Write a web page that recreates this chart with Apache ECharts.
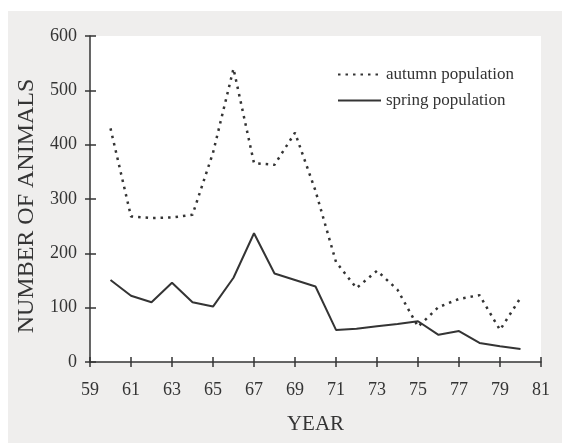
<!DOCTYPE html>
<html><head><meta charset="utf-8">
<script src="https://cdn.jsdelivr.net/npm/echarts@6/dist/echarts.min.js"></script>
<style>html,body{margin:0;padding:0;background:#fff}#c{width:562px;height:443px}</style>
</head><body><div id="c"></div>
<script>
const years = [60,61,62,63,64,65,66,67,68,69,70,71,72,73,74,75,76,77,78,79,80];
const autumn = [430,268,265,266,271,385,540,366,363,422,315,184,136,168,133,65,101,116,123,59,118];
const spring = [151,122,110,146,110,102,155,237,163,151,139,59,61,66,70,75,50,57,35,29,24];
const seriesNames = ['autumn population','spring population'];
const xName = 'YEAR';
const yName = 'NUMBER OF ANIMALS';

const ink = '#343434';
const font = '"Liberation Serif","DejaVu Serif",serif';
const chart = echarts.init(document.getElementById('c'));
const xBase = {type:'value', min:59, max:81, interval:2, position:'bottom'};
const yBase = {type:'value', min:0, max:600, interval:100, position:'left'};
chart.setOption({
  backgroundColor:'transparent',
  animation:false,
  graphic:[{type:'rect', left:8, top:11, z:-10, shape:{width:554, height:432}, style:{fill:'#efeeed'}}],
  grid:{left:90, right:21, top:36, bottom:81, show:true, backgroundColor:'#ffffff', borderWidth:0},
  legend:{orient:'vertical', left:337, top:66, padding:0, itemWidth:43, itemHeight:14, itemGap:9,
    itemStyle:{opacity:0},
    textStyle:{fontFamily:font, fontSize:17, color:ink}, data:seriesNames},
  xAxis:[
    Object.assign({}, xBase, {
      name:xName, nameLocation:'middle', nameGap:52,
      nameTextStyle:{fontFamily:font, fontSize:21, color:ink},
      axisLine:{lineStyle:{color:ink, width:1.5}},
      axisTick:{inside:false, length:5, lineStyle:{color:ink, width:1.5}},
      axisLabel:{fontFamily:font, fontSize:18, color:ink, margin:19},
      splitLine:{show:false}}),
    Object.assign({}, xBase, {
      axisLine:{show:false}, axisLabel:{show:false}, splitLine:{show:false},
      axisTick:{inside:true, length:5, lineStyle:{color:ink, width:1.5}}})
  ],
  yAxis:[
    Object.assign({}, yBase, {
      name:yName, nameLocation:'middle', nameGap:50,
      nameTextStyle:{fontFamily:font, fontSize:24, color:ink, padding:[0,14,0,0]},
      axisLine:{show:true, lineStyle:{color:ink, width:1.5}},
      axisTick:{show:true, inside:false, length:5, lineStyle:{color:ink, width:1.5}},
      axisLabel:{fontFamily:font, fontSize:18, color:ink, margin:13},
      splitLine:{show:false}}),
    Object.assign({}, yBase, {
      axisLine:{show:false}, axisLabel:{show:false}, splitLine:{show:false},
      axisTick:{show:true, inside:true, length:6, lineStyle:{color:ink, width:1.5}}})
  ],
  series:[
    {name:seriesNames[0], type:'line', symbol:'none', data:years.map((y,i)=>[y,autumn[i]]),
      lineStyle:{color:ink, width:2.5, type:[2.5,5]}, itemStyle:{color:ink}},
    {name:seriesNames[1], type:'line', symbol:'none', data:years.map((y,i)=>[y,spring[i]]),
      lineStyle:{color:ink, width:2}, itemStyle:{color:ink}}
  ]
});
</script></body></html>
